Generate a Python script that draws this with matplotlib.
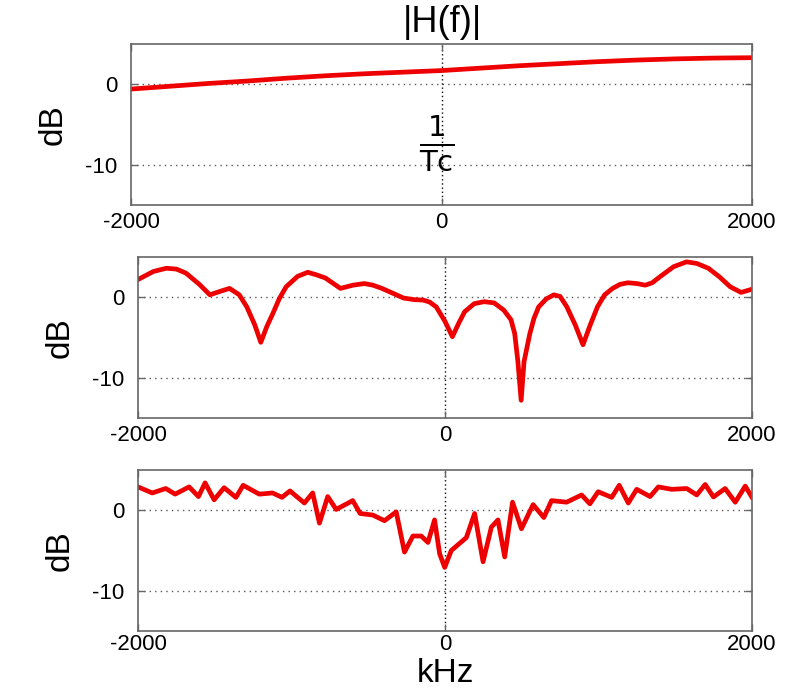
import matplotlib
matplotlib.use("Agg")
import matplotlib.pyplot as plt

plt.rcParams["font.family"] = ["Liberation Sans", "DejaVu Sans"]

# |H(f)| in dB over frequency in kHz, three channel cases
f_top = [-2000, -1750, -1500, -1250, -1000, -750, -500, -250, 0,
         250, 500, 750, 1000, 1250, 1500, 1750, 2000]
h_top = [-0.6, -0.25, 0.1, 0.4, 0.75, 1.05, 1.3, 1.5, 1.7,
         2.0, 2.3, 2.55, 2.8, 3.0, 3.15, 3.25, 3.3]

f_mid = [-2000, -1900, -1816, -1750, -1688, -1600, -1532, -1470, -1404, -1340,
         -1291, -1240, -1200, -1160, -1121, -1080, -1035, -960, -894, -840,
         -780, -681, -600, -525, -470, -411, -340, -270, -200, -142, -100,
         -57, 0, 48, 90, 128, 190, 255, 320, 383, 430, 454, 475, 496, 515,
         553, 580, 610, 660, 709, 750, 794, 850, 899, 945, 993, 1040, 1092,
         1140, 1191, 1250, 1305, 1350, 1404, 1490, 1574, 1640, 1716, 1790,
         1858, 1929, 2000]
h_mid = [2.2, 3.2, 3.6, 3.5, 3.0, 1.6, 0.3, 0.7, 1.1, 0.3,
         -1.2, -3.4, -5.6, -3.6, -2.0, -0.2, 1.3, 2.6, 3.1, 2.8,
         2.4, 1.1, 1.5, 1.7, 1.5, 1.1, 0.5, -0.1, -0.3, -0.35, -0.6,
         -1.2, -3.0, -4.9, -3.2, -1.8, -0.8, -0.55, -0.7, -1.6, -2.8, -4.5, -8.0, -12.8, -8.0,
         -4.5, -2.6, -1.2, -0.2, 0.3, 0.1, -1.2, -3.5, -5.9, -3.5, -1.2, 0.3, 1.1,
         1.6, 1.8, 1.7, 1.5, 1.8, 2.6, 3.8, 4.4, 4.2, 3.6, 2.5,
         1.3, 0.6, 1.0]

f_bot = [-2000, -1907, -1819, -1758, -1667, -1606, -1563, -1504, -1439, -1362,
         -1315, -1210, -1123, -1062, -1010, -916, -862, -818, -764, -709,
         -601, -553, -470, -394, -318, -264, -209, -155, -111, -68, -35,
         -2, 41, 139, 193, 248, 302, 345, 389, 440, 498, 574, 644, 694,
         792, 890, 944, 998, 1086, 1135, 1194, 1249, 1336, 1390, 1477, 1575,
         1640, 1695, 1749, 1825, 1891, 1956, 2000]
h_bot = [2.9, 2.15, 2.7, 2.0, 2.9, 1.7, 3.4, 1.3, 2.8, 1.6,
         3.1, 2.0, 2.15, 1.6, 2.4, 0.9, 2.15, -1.6, 1.7, 0.1,
         1.2, -0.4, -0.6, -1.3, -0.2, -5.2, -3.2, -3.2, -4.0, -1.2, -5.4,
         -7.1, -5.0, -3.4, -0.4, -6.4, -2.1, -1.2, -5.8, 1.0, -2.3, 0.7, -0.9, 1.2,
         1.0, 1.9, 0.8, 2.3, 1.6, 3.1, 0.9, 2.6, 1.7, 2.9, 2.6, 2.7,
         1.9, 3.2, 1.65, 2.7, 1.0, 3.0, 1.6]

x_ticks = [-2000, 0, 2000]
y_ticks = [-10, 0]

W, H = 793, 690
fig = plt.figure(figsize=(W / 100, H / 100), dpi=100)

# axes boxes in pixels: left, top, right, bottom
boxes = [(131, 44, 752, 205), (138, 257, 752, 418), (138, 470, 752, 631)]
series = [(f_top, h_top), (f_mid, h_mid), (f_bot, h_bot)]

axes = []
for (l, t, r, b), (f, h) in zip(boxes, series):
    ax = fig.add_axes((l / W, 1 - b / H, (r - l) / W, (b - t) / H))
    ax.plot(f, h, color="#ee0000", lw=3.4, solid_joinstyle="round")
    ax.set_xlim(-2000, 2000)
    ax.set_ylim(-15, 5)
    ax.set_xticks(x_ticks)
    ax.set_yticks(y_ticks)
    ax.set_xticklabels(["-2000", "0", "2000"])
    ax.set_yticklabels(["-10", "0"])
    # MATLAB-style dotted grid
    for yv in y_ticks:
        ax.axhline(yv, color="0.35", ls=(0, (1, 3)), lw=1.0, zorder=0)
    ax.axvline(0, color="0.05", ls=(0, (1, 2)), lw=1.0, zorder=0)
    ax.tick_params(direction="in", length=5, width=1, colors="0.4",
                   labelcolor="black", labelsize=16, top=True, right=True)
    ax.tick_params(axis="x", pad=5)
    ax.tick_params(axis="y", pad=10)
    for sp in ax.spines.values():
        sp.set_color("0.4")
        sp.set_linewidth(1.2)
    ax.set_ylabel("dB", fontsize=24, labelpad=12)
    axes.append(ax)

# bottom panel: pull tick labels up to leave room for the axis label
axes[2].tick_params(axis="x", pad=2)

fig.text(442 / W, 1 - 22 / H, "|H(f)|", fontsize=26, ha="center", va="center")
axes[0].text(-30, -7.3, r"$\mathsf{\frac{1}{Tc}}$", fontsize=30,
             ha="center", va="center")
fig.text(445 / W, 1 / H, "kHz", fontsize=24, ha="center", va="bottom")

fig.savefig("out.png", dpi=100, facecolor="white")
